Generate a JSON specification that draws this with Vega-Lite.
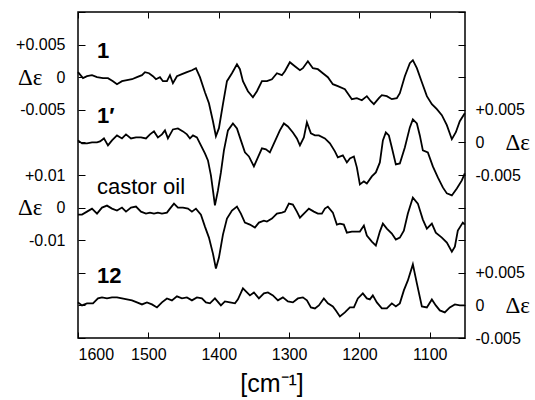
{
  "$schema": "https://vega.github.io/schema/vega-lite/v6.json",
  "width": 387,
  "height": 326,
  "autosize": "none",
  "padding": {"left": 78, "top": 12, "right": 70, "bottom": 62},
  "config": {
    "view": {"stroke": "black", "strokeWidth": 1.5},
    "axis": {"labelFont": "Liberation Sans", "labelFontSize": 16, "labelColor": "black", "tickColor": "black", "domain": false, "grid": false, "titleFont": "Liberation Sans", "titleColor": "black", "titleFontWeight": "normal"}
  },
  "datasets": {
    "s1": [
      {"wn":1600,"de":0.00077},{"wn":1592.9,"de":-0.00015},{"wn":1587.2,"de":0.00015},{"wn":1580.1,"de":0.00031},{"wn":1573,"de":0},{"wn":1564.5,"de":-0.00015},{"wn":1557.4,"de":-0.00015},{"wn":1550.3,"de":-0.00061},{"wn":1544.6,"de":-0.00107},{"wn":1537.5,"de":-0.00061},{"wn":1530.4,"de":-0.00046},{"wn":1523.3,"de":-0.00031},{"wn":1516.2,"de":0},{"wn":1509.1,"de":0.00031},{"wn":1504.8,"de":0.00077},{"wn":1499.1,"de":0.00061},{"wn":1493.5,"de":0.00015},{"wn":1489.2,"de":-0.00031},{"wn":1483.5,"de":0},{"wn":1479.3,"de":-0.00061},{"wn":1473.6,"de":-0.00061},{"wn":1469.3,"de":0.00031},{"wn":1465.1,"de":-0.00092},{"wn":1459.4,"de":0.00015},{"wn":1452.3,"de":0.00046},{"wn":1445.2,"de":0.00077},{"wn":1438.1,"de":0.00107},{"wn":1432.4,"de":0.00138},{"wn":1426.7,"de":0},{"wn":1419.6,"de":-0.0023},{"wn":1413.9,"de":-0.00399},{"wn":1408.2,"de":-0.00675},{"wn":1404,"de":-0.00905},{"wn":1399.7,"de":-0.00782},{"wn":1394,"de":-0.00414},{"wn":1388.3,"de":-0.00061},{"wn":1381.2,"de":0.00061},{"wn":1374.1,"de":0.00199},{"wn":1369.9,"de":0.00123},{"wn":1365.6,"de":-0.00061},{"wn":1358.5,"de":-0.00215},{"wn":1351.4,"de":-0.00307},{"wn":1345.7,"de":-0.00215},{"wn":1338.6,"de":-0.00061},{"wn":1331.5,"de":-0.00061},{"wn":1324.4,"de":-0.00031},{"wn":1317.3,"de":0.00061},{"wn":1310.2,"de":0.00031},{"wn":1306,"de":0.00092},{"wn":1298.9,"de":0.0023},{"wn":1291.8,"de":0.00169},{"wn":1284.6,"de":0.00107},{"wn":1280.4,"de":0.00138},{"wn":1273.3,"de":0.00245},{"wn":1266.2,"de":0.00138},{"wn":1259.1,"de":0.00123},{"wn":1252,"de":0.00061},{"wn":1244.9,"de":0},{"wn":1237.8,"de":-0.00107},{"wn":1230.7,"de":-0.00138},{"wn":1220.7,"de":-0.00184},{"wn":1210.8,"de":-0.00337},{"wn":1203.7,"de":-0.00322},{"wn":1196.6,"de":-0.00353},{"wn":1189.5,"de":-0.00291},{"wn":1183.8,"de":-0.00368},{"wn":1179.5,"de":-0.00414},{"wn":1172.4,"de":-0.00322},{"wn":1168.2,"de":-0.00276},{"wn":1161.1,"de":-0.00291},{"wn":1154,"de":-0.00337},{"wn":1146.9,"de":-0.00322},{"wn":1142.6,"de":-0.00245},{"wn":1135.5,"de":0.00015},{"wn":1128.4,"de":0.00215},{"wn":1124.1,"de":0.00261},{"wn":1118.4,"de":0.00138},{"wn":1111.3,"de":-0.00077},{"wn":1104.2,"de":-0.00291},{"wn":1097.1,"de":-0.00414},{"wn":1090,"de":-0.00491},{"wn":1082.9,"de":-0.00583},{"wn":1075.8,"de":-0.00736},{"wn":1068.7,"de":-0.00951},{"wn":1063,"de":-0.00844},{"wn":1057.4,"de":-0.00675},{"wn":1050.3,"de":-0.00552}
    ],
    "s1p": [
      {"wn":1600,"de":0.00031},{"wn":1594.3,"de":-0.00015},{"wn":1587.2,"de":-0.00015},{"wn":1580.1,"de":0},{"wn":1573,"de":0},{"wn":1568.7,"de":0.00015},{"wn":1563.1,"de":0.00061},{"wn":1557.4,"de":-0.00046},{"wn":1551.7,"de":0.00031},{"wn":1544.6,"de":0.00107},{"wn":1537.5,"de":0.00061},{"wn":1531.8,"de":0.00123},{"wn":1524.7,"de":0.00061},{"wn":1517.6,"de":0.00077},{"wn":1510.5,"de":0.00077},{"wn":1503.4,"de":0.00061},{"wn":1497.7,"de":0.00123},{"wn":1492,"de":0.00169},{"wn":1486.4,"de":0.00077},{"wn":1480.7,"de":0.00123},{"wn":1476.4,"de":0.00184},{"wn":1472.2,"de":0.00061},{"wn":1465.1,"de":0.00199},{"wn":1458,"de":0.00215},{"wn":1450.8,"de":0.00169},{"wn":1445.2,"de":0.00123},{"wn":1440.9,"de":0.00061},{"wn":1436.6,"de":0.00107},{"wn":1431,"de":0.00077},{"wn":1425.3,"de":-0.00046},{"wn":1419.6,"de":-0.00169},{"wn":1415.3,"de":-0.00276},{"wn":1411.1,"de":-0.00506},{"wn":1408.2,"de":-0.00736},{"wn":1405.4,"de":-0.00966},{"wn":1401.1,"de":-0.00736},{"wn":1396.9,"de":-0.0046},{"wn":1392.6,"de":-0.00123},{"wn":1386.9,"de":0.00184},{"wn":1379.8,"de":0.00291},{"wn":1374.1,"de":0.00215},{"wn":1368.5,"de":0.00031},{"wn":1362.8,"de":-0.00153},{"wn":1357.1,"de":-0.00215},{"wn":1350,"de":-0.00368},{"wn":1344.3,"de":-0.0023},{"wn":1338.6,"de":-0.00092},{"wn":1332.9,"de":-0.00107},{"wn":1327.3,"de":-0.00153},{"wn":1320.2,"de":0.00015},{"wn":1313.1,"de":0.00184},{"wn":1307.4,"de":0.00291},{"wn":1301.7,"de":0.00245},{"wn":1294.6,"de":0.00153},{"wn":1288.9,"de":0.00061},{"wn":1284.6,"de":-0.00046},{"wn":1279,"de":0.00077},{"wn":1274.7,"de":0.00307},{"wn":1269,"de":0.00138},{"wn":1263.3,"de":0.00107},{"wn":1257.7,"de":0.00107},{"wn":1249.1,"de":0.00061},{"wn":1242,"de":-0.00015},{"wn":1234.9,"de":-0.00138},{"wn":1230.7,"de":-0.0023},{"wn":1223.6,"de":-0.00199},{"wn":1217.9,"de":-0.00307},{"wn":1213.6,"de":-0.00245},{"wn":1207.9,"de":-0.00215},{"wn":1203.7,"de":-0.00383},{"wn":1199.4,"de":-0.00644},{"wn":1193.7,"de":-0.00598},{"wn":1189.5,"de":-0.00629},{"wn":1182.4,"de":-0.00521},{"wn":1176.7,"de":-0.0046},{"wn":1171,"de":-0.00307},{"wn":1166.7,"de":0.00031},{"wn":1162.5,"de":0.00153},{"wn":1158.2,"de":0.00107},{"wn":1154,"de":-0.00077},{"wn":1148.3,"de":-0.00337},{"wn":1142.6,"de":-0.00322},{"wn":1135.5,"de":-0.00077},{"wn":1128.4,"de":0.0023},{"wn":1124.1,"de":0.00353},{"wn":1118.4,"de":0.00291},{"wn":1114.2,"de":0.00107},{"wn":1109.9,"de":-0.00123},{"wn":1102.8,"de":-0.00153},{"wn":1095.7,"de":-0.00368},{"wn":1088.6,"de":-0.00537},{"wn":1081.5,"de":-0.0069},{"wn":1075.8,"de":-0.00782},{"wn":1068.7,"de":-0.00813},{"wn":1061.6,"de":-0.00706},{"wn":1054.5,"de":-0.00583},{"wn":1050.3,"de":-0.00475}
    ],
    "castor": [
      {"wn":1600,"de":-0.00215},{"wn":1594.3,"de":-0.00215},{"wn":1587.2,"de":-0.00123},{"wn":1580.1,"de":-0.00031},{"wn":1573,"de":-0.00184},{"wn":1565.9,"de":0},{"wn":1558.8,"de":0.00061},{"wn":1551.7,"de":-0.00031},{"wn":1544.6,"de":-0.00092},{"wn":1537.5,"de":0},{"wn":1531.8,"de":-0.00123},{"wn":1524.7,"de":0},{"wn":1517.6,"de":0.00031},{"wn":1510.5,"de":-0.00123},{"wn":1503.4,"de":-0.00184},{"wn":1497.7,"de":-0.00153},{"wn":1492,"de":-0.00184},{"wn":1486.4,"de":-0.00153},{"wn":1480.7,"de":-0.00184},{"wn":1473.6,"de":-0.00153},{"wn":1469.3,"de":-0.00031},{"wn":1463.6,"de":0.00123},{"wn":1458,"de":0},{"wn":1450.8,"de":0},{"wn":1443.7,"de":-0.00031},{"wn":1438.1,"de":-0.00123},{"wn":1432.4,"de":-0.00031},{"wn":1425.3,"de":-0.00215},{"wn":1419.6,"de":-0.00583},{"wn":1413.9,"de":-0.0092},{"wn":1408.2,"de":-0.01411},{"wn":1404,"de":-0.01871},{"wn":1399.7,"de":-0.01534},{"wn":1394,"de":-0.00828},{"wn":1388.3,"de":-0.00337},{"wn":1381.2,"de":-0.00092},{"wn":1374.1,"de":0.00031},{"wn":1368.5,"de":-0.00184},{"wn":1362.8,"de":-0.0046},{"wn":1355.7,"de":-0.00521},{"wn":1348.6,"de":-0.00613},{"wn":1342.9,"de":-0.0046},{"wn":1335.8,"de":-0.00399},{"wn":1331.5,"de":-0.00429},{"wn":1324.4,"de":-0.00337},{"wn":1317.3,"de":-0.00184},{"wn":1310.2,"de":-0.00153},{"wn":1306,"de":-0.00123},{"wn":1300.3,"de":0.00123},{"wn":1294.6,"de":0.00092},{"wn":1288.9,"de":-0.00123},{"wn":1284.6,"de":-0.00307},{"wn":1277.5,"de":-0.00153},{"wn":1271.9,"de":-0.00031},{"wn":1264.8,"de":-0.00123},{"wn":1259.1,"de":-0.00184},{"wn":1253.4,"de":-0.00184},{"wn":1249.1,"de":-0.00031},{"wn":1244.9,"de":0.00031},{"wn":1237.8,"de":-0.00153},{"wn":1232.1,"de":-0.00521},{"wn":1227.8,"de":-0.00491},{"wn":1222.2,"de":-0.00521},{"wn":1217.9,"de":-0.00767},{"wn":1210.8,"de":-0.00736},{"wn":1203.7,"de":-0.00736},{"wn":1199.4,"de":-0.00736},{"wn":1193.7,"de":-0.00552},{"wn":1189.5,"de":-0.00859},{"wn":1182.4,"de":-0.01043},{"wn":1176.7,"de":-0.01166},{"wn":1171,"de":-0.00736},{"wn":1166.7,"de":-0.00491},{"wn":1161.1,"de":-0.00644},{"wn":1154,"de":-0.00798},{"wn":1148.3,"de":-0.00982},{"wn":1142.6,"de":-0.0092},{"wn":1136.9,"de":-0.00706},{"wn":1131.2,"de":-0.00184},{"wn":1124.1,"de":0.00307},{"wn":1117,"de":0.00123},{"wn":1109.9,"de":-0.00368},{"wn":1104.2,"de":-0.00644},{"wn":1097.1,"de":-0.00491},{"wn":1091.5,"de":-0.00767},{"wn":1082.9,"de":-0.0092},{"wn":1075.8,"de":-0.01074},{"wn":1068.7,"de":-0.0135},{"wn":1064.4,"de":-0.01196},{"wn":1060.2,"de":-0.00706},{"wn":1053.1,"de":-0.0046},{"wn":1050.3,"de":-0.00521}
    ],
    "s12": [
      {"wn":1600,"de":0.00046},{"wn":1594.3,"de":0},{"wn":1587.2,"de":0.00031},{"wn":1578.7,"de":0.00031},{"wn":1571.6,"de":0.00107},{"wn":1565.9,"de":0.00123},{"wn":1558.8,"de":0.00107},{"wn":1551.7,"de":0.00123},{"wn":1544.6,"de":0.00123},{"wn":1537.5,"de":0.00107},{"wn":1530.4,"de":0.00092},{"wn":1523.3,"de":0.00077},{"wn":1516.2,"de":0.00046},{"wn":1509.1,"de":0.00015},{"wn":1502,"de":0.00046},{"wn":1494.9,"de":0.00015},{"wn":1487.8,"de":-0.00031},{"wn":1480.7,"de":0.00046},{"wn":1473.6,"de":0.00107},{"wn":1466.5,"de":0.00077},{"wn":1459.4,"de":0.00138},{"wn":1452.3,"de":0.00107},{"wn":1445.2,"de":0.00123},{"wn":1438.1,"de":0.00077},{"wn":1431,"de":0.00123},{"wn":1423.9,"de":0.00107},{"wn":1418.2,"de":0.00046},{"wn":1412.5,"de":0.00031},{"wn":1405.4,"de":0.00107},{"wn":1396.9,"de":0},{"wn":1391.2,"de":0.00061},{"wn":1384.1,"de":0.00046},{"wn":1376.9,"de":0.00031},{"wn":1372.7,"de":0.00092},{"wn":1365.6,"de":0.00261},{"wn":1359.9,"de":0.00199},{"wn":1355.7,"de":0.00153},{"wn":1350,"de":0.00199},{"wn":1342.9,"de":0.00107},{"wn":1335.8,"de":0.00184},{"wn":1330.1,"de":0.00199},{"wn":1323,"de":0.00153},{"wn":1315.9,"de":0.00077},{"wn":1308.8,"de":0.00123},{"wn":1301.7,"de":0.00061},{"wn":1294.6,"de":0.00046},{"wn":1287.5,"de":0.00107},{"wn":1280.4,"de":0.00123},{"wn":1274.7,"de":0.00077},{"wn":1269,"de":-0.00031},{"wn":1263.3,"de":-0.00046},{"wn":1257.7,"de":0},{"wn":1250.6,"de":0.00107},{"wn":1244.9,"de":0.00031},{"wn":1237.8,"de":-0.00015},{"wn":1233.5,"de":-0.00077},{"wn":1227.8,"de":-0.00169},{"wn":1220.7,"de":-0.00107},{"wn":1213.6,"de":-0.00031},{"wn":1207.9,"de":-0.00031},{"wn":1202.3,"de":0.00107},{"wn":1195.2,"de":0.00184},{"wn":1189.5,"de":0.00107},{"wn":1185.2,"de":0.00092},{"wn":1181,"de":0.00153},{"wn":1175.3,"de":0.00046},{"wn":1168.2,"de":-0.00046},{"wn":1161.1,"de":-0.00046},{"wn":1154,"de":0.00031},{"wn":1148.3,"de":-0.00015},{"wn":1142.6,"de":0.00031},{"wn":1136.9,"de":0.0023},{"wn":1131.2,"de":0.00383},{"wn":1124.1,"de":0.00629},{"wn":1118.4,"de":0.00337},{"wn":1111.3,"de":-0.00015},{"wn":1104.2,"de":-0.00031},{"wn":1097.1,"de":0.00092},{"wn":1091.5,"de":0},{"wn":1085.8,"de":-0.00077},{"wn":1078.7,"de":-0.00107},{"wn":1071.6,"de":-0.00031},{"wn":1064.4,"de":0.00015},{"wn":1057.4,"de":0},{"wn":1050.3,"de":0}
    ]
  },
  "resolve": {"scale": {"y": "independent"}, "axis": {"x": "independent", "y": "independent"}},
  "layer": [
    {
      "data": {"name": "s1"},
      "mark": {"type": "line", "color": "black", "strokeWidth": 1.8},
      "encoding": {
        "x": {"field": "wn", "type": "quantitative", "scale": {"domain": [1600, 1050], "nice": false, "zero": false},
              "axis": {"orient": "bottom", "tickCount": 6, "tickSize": 6, "offset": -6, "tickColor": "black", "labelOpacity": 0, "title": null}},
        "y": {"field": "de", "type": "quantitative", "scale": {"domain": [-0.04, 0.01], "nice": false, "zero": false}, "axis": null}
      }
    },
    {
      "data": {"name": "s1p"},
      "mark": {"type": "line", "color": "black", "strokeWidth": 1.8},
      "encoding": {
        "x": {"field": "wn", "type": "quantitative", "axis": {"orient": "top", "tickCount": 6, "tickSize": 6, "offset": -6, "tickColor": "black", "labelOpacity": 0, "title": null}},
        "y": {"field": "de", "type": "quantitative", "scale": {"domain": [-0.03, 0.02], "nice": false, "zero": false}, "axis": null}
      }
    },
    {
      "data": {"name": "castor"},
      "mark": {"type": "line", "color": "black", "strokeWidth": 1.8},
      "encoding": {
        "x": {"field": "wn", "type": "quantitative",
              "axis": {"orient": "bottom", "values": [1600, 1500, 1400, 1300, 1200, 1100], "format": "d", "ticks": false, "labelPadding": 8, "title": "[cm⁻¹]", "titleFontSize": 25, "titlePadding": 9}},
        "y": {"field": "de", "type": "quantitative", "scale": {"domain": [-0.04, 0.06], "nice": false, "zero": false}, "axis": null}
      }
    },
    {
      "data": {"name": "s12"},
      "mark": {"type": "line", "color": "black", "strokeWidth": 1.8},
      "encoding": {
        "x": {"field": "wn", "type": "quantitative", "axis": null},
        "y": {"field": "de", "type": "quantitative", "scale": {"domain": [-0.005, 0.045], "nice": false, "zero": false}, "axis": null}
      }
    },
    {
      "data": {"values": [{}]},
      "mark": {"type": "rule", "opacity": 0},
      "encoding": {
        "y": {"datum": 0, "type": "quantitative", "scale": {"domain": [0, 10], "nice": false},
              "axis": {"orient": "left", "tickCount": 10, "tickSize": 7, "offset": -7, "tickColor": "black", "labelOpacity": 0, "title": null}}
      }
    },
    {
      "data": {"values": [{}]},
      "mark": {"type": "rule", "opacity": 0},
      "encoding": {
        "y": {"datum": 0, "type": "quantitative", "scale": {"domain": [0, 10], "nice": false},
              "axis": {"orient": "left", "values": [3, 4, 5, 7, 8, 9], "ticks": false, "labelPadding": 13, "title": null,
                       "labelExpr": "datum.value == 9 ? '+0.005' : datum.value == 8 ? '0' : datum.value == 7 ? '-0.005' : datum.value == 5 ? '+0.01' : datum.value == 4 ? '0' : '-0.01'"}}
      }
    },
    {
      "data": {"values": [{}]},
      "mark": {"type": "rule", "opacity": 0},
      "encoding": {
        "y": {"datum": 0, "type": "quantitative", "scale": {"domain": [0, 10], "nice": false},
              "axis": {"orient": "left", "values": [8, 4], "ticks": false, "labelPadding": 36, "title": null, "labelFont": "Liberation Serif", "labelFontSize": 23,
                       "labelExpr": "'Δε'"}}
      }
    },
    {
      "data": {"values": [{}]},
      "mark": {"type": "rule", "opacity": 0},
      "encoding": {
        "y": {"datum": 0, "type": "quantitative", "scale": {"domain": [0, 10], "nice": false},
              "axis": {"orient": "right", "tickCount": 10, "tickSize": 7, "offset": -7, "tickColor": "black", "labelOpacity": 0, "title": null}}
      }
    },
    {
      "data": {"values": [{}]},
      "mark": {"type": "rule", "opacity": 0},
      "encoding": {
        "y": {"datum": 0, "type": "quantitative", "scale": {"domain": [0, 10], "nice": false},
              "axis": {"orient": "right", "values": [0, 1, 2, 5, 6, 7], "ticks": false, "labelPadding": 10, "title": null,
                       "labelExpr": "datum.value == 7 ? '+0.005' : datum.value == 6 ? '0' : datum.value == 5 ? '-0.005' : datum.value == 2 ? '+0.005' : datum.value == 1 ? '0' : '-0.005'"}}
      }
    },
    {
      "data": {"values": [{}]},
      "mark": {"type": "rule", "opacity": 0},
      "encoding": {
        "y": {"datum": 0, "type": "quantitative", "scale": {"domain": [0, 10], "nice": false},
              "axis": {"orient": "right", "values": [6, 1], "ticks": false, "labelPadding": 40, "title": null, "labelFont": "Liberation Serif", "labelFontSize": 23,
                       "labelExpr": "'Δε'"}}
      }
    },
    {
      "data": {"values": [{}]},
      "mark": {"type": "text", "text": "1", "font": "Liberation Sans", "fontWeight": "bold", "fontSize": 22, "align": "left", "baseline": "alphabetic", "color": "black"},
      "encoding": {
        "x": {"datum": 1573, "type": "quantitative", "axis": null},
        "y": {"datum": 8.59, "type": "quantitative", "scale": {"domain": [0, 10], "nice": false}, "axis": null}
      }
    },
    {
      "data": {"values": [{}]},
      "mark": {"type": "text", "text": "1′", "font": "Liberation Sans", "fontWeight": "bold", "fontSize": 22, "align": "left", "baseline": "alphabetic", "color": "black"},
      "encoding": {
        "x": {"datum": 1573, "type": "quantitative", "axis": null},
        "y": {"datum": 6.6, "type": "quantitative", "scale": {"domain": [0, 10], "nice": false}, "axis": null}
      }
    },
    {
      "data": {"values": [{}]},
      "mark": {"type": "text", "text": "castor oil", "font": "Liberation Sans", "fontSize": 22, "align": "left", "baseline": "alphabetic", "color": "black"},
      "encoding": {
        "x": {"datum": 1573, "type": "quantitative", "axis": null},
        "y": {"datum": 4.42, "type": "quantitative", "scale": {"domain": [0, 10], "nice": false}, "axis": null}
      }
    },
    {
      "data": {"values": [{}]},
      "mark": {"type": "text", "text": "12", "font": "Liberation Sans", "fontWeight": "bold", "fontSize": 22, "align": "left", "baseline": "alphabetic", "color": "black"},
      "encoding": {
        "x": {"datum": 1573, "type": "quantitative", "axis": null},
        "y": {"datum": 1.69, "type": "quantitative", "scale": {"domain": [0, 10], "nice": false}, "axis": null}
      }
    }
  ]
}
